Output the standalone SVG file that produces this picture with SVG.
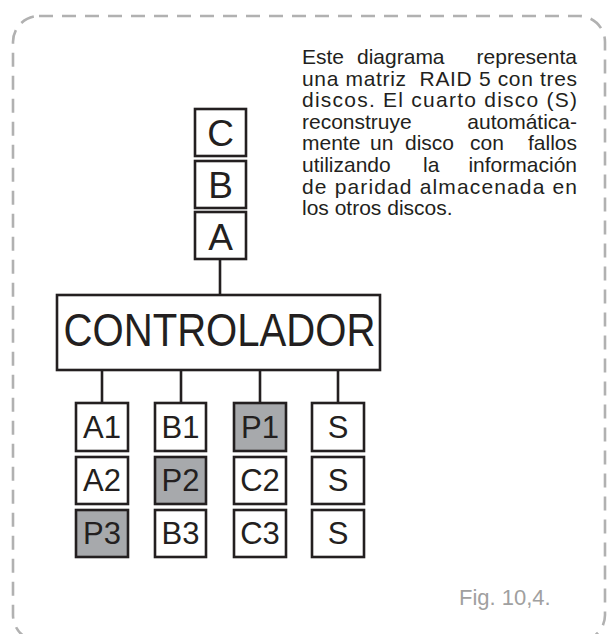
<svg xmlns="http://www.w3.org/2000/svg" width="610" height="634" viewBox="0 0 610 634">
<style>
.bg{fill:#ffffff}
.frame{fill:none;stroke:#b1b1b1;stroke-width:2.6;stroke-dasharray:14 9}
.box{fill:#ffffff;stroke:#231f20;stroke-width:2.6}
.par{fill:#a7a9ac;stroke:#231f20;stroke-width:2.6}
.wire{stroke:#231f20;stroke-width:2.6;fill:none}
.lbl{font-family:"Liberation Sans","DejaVu Sans",sans-serif;fill:#231f20;text-anchor:middle}
.big{font-size:37px}
.cell{font-size:31px}
.ctrl{font-size:46px}
.txt{font-family:"Liberation Sans","DejaVu Sans",sans-serif;font-size:21px;fill:#231f20}
.fig{font-family:"Liberation Sans","DejaVu Sans",sans-serif;font-size:22px;fill:#a0a0a0}
</style>
<rect class="bg" x="0" y="0" width="610" height="634"/>
<rect class="frame" x="13" y="16" width="592" height="625" rx="26" ry="26"/>

<g id="connectors">
<line class="wire" x1="220" y1="259" x2="220" y2="295"/>
<line class="wire" x1="102" y1="370" x2="102" y2="403"/>
<line class="wire" x1="181" y1="370" x2="181" y2="403"/>
<line class="wire" x1="260" y1="370" x2="260" y2="403"/>
<line class="wire" x1="338" y1="370" x2="338" y2="403"/>
</g>

<g id="node-C"><rect class="box" x="195" y="109" width="51" height="47"/><text class="lbl big" x="220.5" y="146">C</text></g>
<g id="node-B"><rect class="box" x="195" y="161" width="51" height="47"/><text class="lbl big" x="220.5" y="198">B</text></g>
<g id="node-A"><rect class="box" x="195" y="212" width="51" height="47"/><text class="lbl big" x="220.5" y="250">A</text></g>

<g id="node-controlador"><rect class="box" x="57" y="295" width="323" height="75"/><text class="lbl ctrl" x="219.5" y="346" textLength="312" lengthAdjust="spacingAndGlyphs">CONTROLADOR</text></g>

<g id="node-A1"><rect class="box" x="76" y="403" width="52" height="48"/><text class="lbl cell" x="102" y="438">A1</text></g>
<g id="node-A2"><rect class="box" x="76" y="457" width="52" height="47"/><text class="lbl cell" x="102" y="491">A2</text></g>
<g id="node-P3"><rect class="par" x="76" y="510" width="52" height="47"/><text class="lbl cell" x="102" y="544">P3</text></g>

<g id="node-B1"><rect class="box" x="155" y="403" width="51" height="48"/><text class="lbl cell" x="180.5" y="438">B1</text></g>
<g id="node-P2"><rect class="par" x="155" y="457" width="51" height="47"/><text class="lbl cell" x="180.5" y="491">P2</text></g>
<g id="node-B3"><rect class="box" x="155" y="510" width="51" height="47"/><text class="lbl cell" x="180.5" y="544">B3</text></g>

<g id="node-P1"><rect class="par" x="234" y="403" width="52" height="48"/><text class="lbl cell" x="260" y="438">P1</text></g>
<g id="node-C2"><rect class="box" x="234" y="457" width="52" height="47"/><text class="lbl cell" x="260" y="491">C2</text></g>
<g id="node-C3"><rect class="box" x="234" y="510" width="52" height="47"/><text class="lbl cell" x="260" y="544">C3</text></g>

<g id="node-S1"><rect class="box" x="312" y="403" width="52" height="48"/><text class="lbl cell" x="338" y="438">S</text></g>
<g id="node-S2"><rect class="box" x="312" y="457" width="52" height="47"/><text class="lbl cell" x="338" y="491">S</text></g>
<g id="node-S3"><rect class="box" x="312" y="510" width="52" height="47"/><text class="lbl cell" x="338" y="544">S</text></g>

<g id="description" class="txt">
<text x="302" y="64">Este</text>
<text x="357" y="64">diagrama</text>
<text x="577" y="64" text-anchor="end">representa</text>
<text x="302" y="85.6" textLength="275" lengthAdjust="spacing" xml:space="preserve">una matriz  RAID 5 con tres</text>
<text x="302" y="107.2" textLength="275" lengthAdjust="spacing">discos. El cuarto disco (S)</text>
<text x="302" y="128.8">reconstruye</text>
<text x="577" y="128.8" text-anchor="end">automática-</text>
<text x="302" y="150.4">mente</text>
<text x="370" y="150.4">un</text>
<text x="405" y="150.4">disco</text>
<text x="470" y="150.4">con</text>
<text x="577" y="150.4" text-anchor="end">fallos</text>
<text x="302" y="172">utilizando</text>
<text x="423" y="172">la</text>
<text x="577" y="172" text-anchor="end">información</text>
<text x="302" y="193.6" textLength="275" lengthAdjust="spacing">de paridad almacenada en</text>
<text x="302" y="215.2">los otros discos.</text>
</g>

<text class="fig" x="459" y="605">Fig. 10,4.</text>
</svg>
